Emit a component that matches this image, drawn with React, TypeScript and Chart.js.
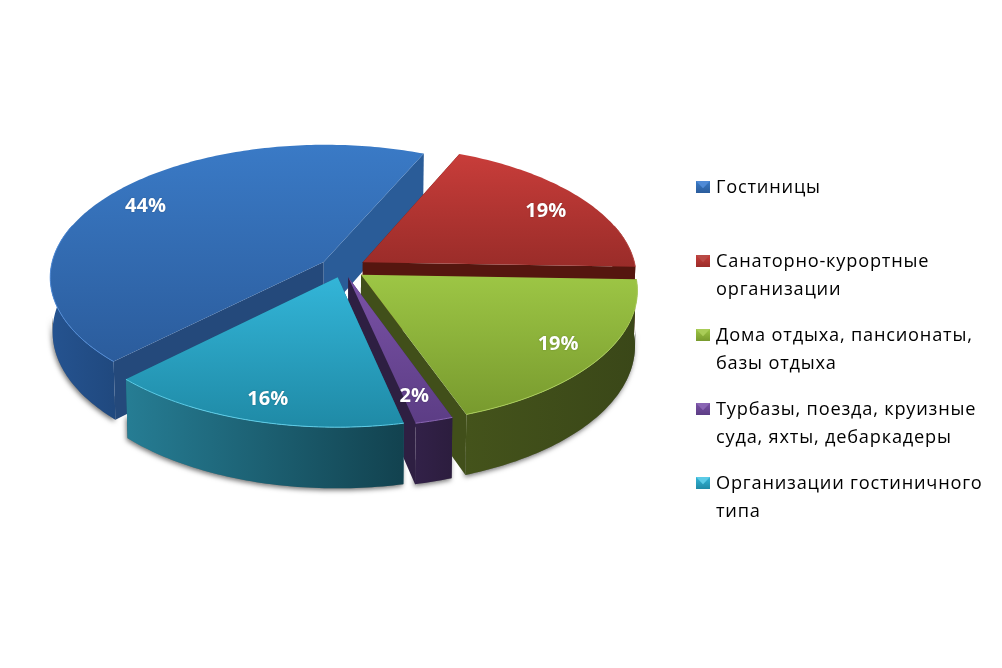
import React, { useEffect, useRef } from "react";
import { Chart, registerables } from "chart.js";

Chart.register(...registerables);

const categories = [
  "Гостиницы",
  "Санаторно-курортные организации",
  "Дома отдыха, пансионаты, базы отдыха",
  "Турбазы, поезда, круизные суда, яхты, дебаркадеры",
  "Организации гостиничного типа",
];
const seriesValues = [44, 19, 19, 2, 16];
const legendLines = [
  ["Гостиницы"],
  ["Санаторно-курортные", "организации"],
  ["Дома отдыха, пансионаты,", "базы отдыха"],
  ["Турбазы, поезда, круизные", "суда, яхты, дебаркадеры"],
  ["Организации гостиничного", "типа"],
];

// Styling only
const baseColors = ["#3A7AC6", "#C83D3A", "#9DC645", "#7A52A6", "#33B5D8"];
const topBottomColors = ["#2B5C9C", "#9A2C29", "#789A2E", "#5C3D85", "#1F8AA6"];
const highlightColors = ["#4F8AD6", "#B84A46", "#A9CC58", "#8A66B4", "#5CCBE6"];
const outerWallLeft = ["#255390", "#55160F", "#44531B", "#322148", "#267D94"];
const outerWallRight = ["#20497F", "#55160F", "#3A4718", "#2C1D3E", "#12424F"];
const startWalls = ["#24497B", "#55160F", "#55160F", "#332349", "#1A6276"];
const endWalls = ["#2A5C98", "#55160F", "#414F1A", "#2E1F42", "#1A6276"];
const sliceOffsets = [27.6, 27.6, 26, 22, 22];
const drawOrder = [0, 1, 2, 3, 4];
const labelRadius = [0.8, 0.85, 0.82, 0.82, 0.8];
const labelNudge = [[-8, 0], [-2, 5], [4, 2], [-3, 4], [-2, 10]];
const legendY = [188, 262, 336, 410, 484];

const PROJ = { cx: 343, cy: 268.4, b: 273, a: 131.5, k: 0.11, depth: 54, taper: 0.008 };
const FRONT_LIMIT = -0.3;
const SHADOW_LIMIT = 0.15;

function project(u: number, v: number, z: number) {
  const s = 1 / (1 - PROJ.k * v);
  return {
    x: PROJ.cx + PROJ.b * u * s * (1 - PROJ.taper * z),
    y: PROJ.cy + PROJ.a * v * s + z * PROJ.depth * s,
  };
}

function sliceGeometry(el: any) {
  const p = el.getProps(["startAngle", "endAngle", "outerRadius"], true);
  const off = el.options.offset / p.outerRadius;
  const mid = (p.startAngle + p.endAngle) / 2;
  const eu = off * Math.cos(mid);
  const ev = off * Math.sin(mid);
  const n = Math.max(2, Math.ceil(((p.endAngle - p.startAngle) * 180) / Math.PI));
  const arc: [number, number][] = [];
  const front: [number, number][] = [];
  const ground: [number, number][] = [];
  for (let i = 0; i <= n; i++) {
    const a = p.startAngle + ((p.endAngle - p.startAngle) * i) / n;
    const pt: [number, number] = [eu + Math.cos(a), ev + Math.sin(a)];
    arc.push(pt);
    if (Math.sin(a) > FRONT_LIMIT) front.push(pt);
    if (Math.sin(a) > SHADOW_LIMIT) ground.push(pt);
  }
  return { eu, ev, arc, front, ground, mid };
}

function poly(ctx: CanvasRenderingContext2D, pts: { x: number; y: number }[]) {
  ctx.beginPath();
  pts.forEach((q, i) => (i ? ctx.lineTo(q.x, q.y) : ctx.moveTo(q.x, q.y)));
  ctx.closePath();
}

const pie3d = {
  id: "pie3d",
  beforeDatasetsDraw(chart: any) {
    const ctx: CanvasRenderingContext2D = chart.ctx;
    const els = chart.getDatasetMeta(0).data;
    const geos = els.map(sliceGeometry);

    // soft ground shadow under the front walls
    ctx.save();
    geos.forEach((g: any) => {
      if (g.ground.length < 2) return;
      const low = g.ground.map((a: number[]) => project(a[0], a[1], 1));
      const high = g.ground.map((a: number[]) => project(a[0], a[1], 0.6));
      ctx.shadowColor = "rgba(0,0,0,0.55)";
      ctx.shadowBlur = 5;
      ctx.shadowOffsetX = -1;
      ctx.shadowOffsetY = 2;
      ctx.fillStyle = "#777";
      poly(ctx, [...high, ...low.slice().reverse()]);
      ctx.fill();
    });
    ctx.restore();

    drawOrder.forEach((i) => {
      const g = geos[i];
      const apex0 = project(g.eu, g.ev, 0);
      const apex1 = project(g.eu, g.ev, 1);
      const high = g.arc.map((a: number[]) => project(a[0], a[1], 0));
      const low = g.arc.map((a: number[]) => project(a[0], a[1], 1));

      // radial walls
      ctx.fillStyle = startWalls[i];
      poly(ctx, [apex0, high[0], low[0], apex1]);
      ctx.fill();
      ctx.fillStyle = endWalls[i];
      poly(ctx, [apex0, high[high.length - 1], low[low.length - 1], apex1]);
      ctx.fill();

      // outer wall (front-facing part only)
      const fh = g.front.map((a: number[]) => project(a[0], a[1], 0));
      const fl = g.front.map((a: number[]) => project(a[0], a[1], 1));
      if (fh.length >= 2) {
        const xs = fh.map((q: any) => q.x);
        const wg = ctx.createLinearGradient(Math.min(...xs), 0, Math.max(...xs), 0);
        wg.addColorStop(0, outerWallLeft[i]);
        wg.addColorStop(1, outerWallRight[i]);
        ctx.fillStyle = wg;
        poly(ctx, [...fh, ...fl.slice().reverse()]);
        ctx.fill();
      }

      // top face
      const ys = [...high.map((q: any) => q.y), apex0.y];
      const tg = ctx.createLinearGradient(0, Math.min(...ys), 0, Math.max(...ys));
      tg.addColorStop(0, baseColors[i]);
      tg.addColorStop(1, topBottomColors[i]);
      ctx.fillStyle = tg;
      poly(ctx, [apex0, ...high]);
      ctx.fill();

      // light rim along the front edge
      if (fh.length >= 2) {
        ctx.strokeStyle = highlightColors[i];
        ctx.lineWidth = 1;
        ctx.beginPath();
        fh.forEach((q: any, j: number) => (j ? ctx.lineTo(q.x, q.y) : ctx.moveTo(q.x, q.y)));
        ctx.stroke();
      }
    });

    // value labels
    ctx.save();
    ctx.fillStyle = "#FFFFFF";
    ctx.font = "bold 20px 'Open Sans'";
    ctx.textAlign = "center";
    ctx.textBaseline = "middle";
    ctx.shadowColor = "rgba(0,0,0,0.25)";
    ctx.shadowBlur = 2;
    geos.forEach((g: any, i: number) => {
      const r = labelRadius[i];
      const q = project(g.eu + r * Math.cos(g.mid), g.ev + r * Math.sin(g.mid), 0);
      ctx.fillText(`${seriesValues[i]}%`, q.x + labelNudge[i][0], q.y + labelNudge[i][1]);
    });
    ctx.restore();

    // legend
    ctx.save();
    ctx.textAlign = "left";
    ctx.textBaseline = "middle";
    ctx.font = "18.2px 'Open Sans'";
    (ctx as any).letterSpacing = "0.8px";
    legendLines.forEach((lines, i) => {
      const x = 696;
      const y0 = legendY[i] - 7;
      const w = 14;
      const h = 12;
      const g = ctx.createLinearGradient(0, y0, 0, y0 + h);
      g.addColorStop(0, baseColors[i]);
      g.addColorStop(1, topBottomColors[i]);
      ctx.fillStyle = g;
      ctx.fillRect(x, y0, w, h);
      ctx.fillStyle = highlightColors[i];
      ctx.beginPath();
      ctx.moveTo(x, y0);
      ctx.lineTo(x + w, y0);
      ctx.lineTo(x + w / 2, y0 + h * 0.6);
      ctx.closePath();
      ctx.fill();
      ctx.fillStyle = "#000000";
      lines.forEach((t, j) => ctx.fillText(t, 716, legendY[i] + j * 27.5));
    });
    ctx.restore();
    return false;
  },
};

export default function App() {
  const ref = useRef<HTMLCanvasElement>(null);
  useEffect(() => {
    const chart = new Chart(ref.current as HTMLCanvasElement, {
      type: "pie",
      data: {
        labels: categories,
        datasets: [
          {
            data: seriesValues,
            backgroundColor: baseColors,
            offset: sliceOffsets,
            borderWidth: 0,
          },
        ],
      },
      options: {
        responsive: false,
        animation: false,
        rotation: -134.9,
        layout: { padding: 0 },
        plugins: { legend: { display: false }, tooltip: { enabled: false }, title: { display: false } },
      },
      plugins: [pie3d],
    } as any);
    return () => chart.destroy();
  }, []);
  return (
    <div style={{ position: "absolute", left: 0, top: 0, width: 1002, height: 668, background: "#fff" }}>
      <canvas ref={ref} width={1002} height={668} style={{ display: "block" }} />
    </div>
  );
}
